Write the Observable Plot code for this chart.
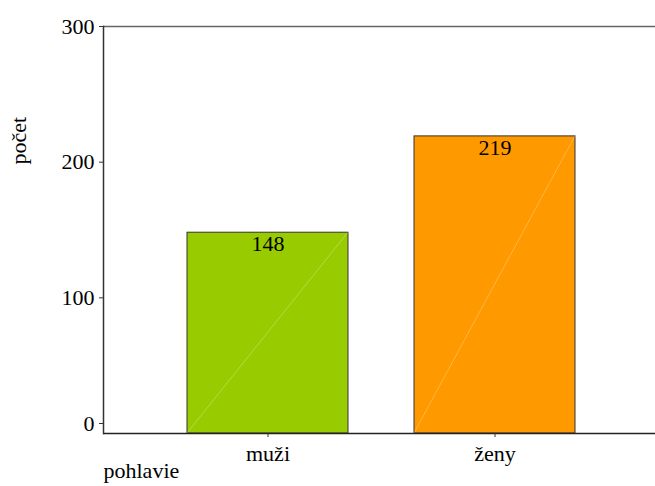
<!DOCTYPE html>
<html>
<head>
<meta charset="utf-8">
<script src="https://cdn.jsdelivr.net/npm/d3@7"></script>
<script src="https://cdn.jsdelivr.net/npm/@observablehq/plot@0.6"></script>
<style>
  html, body { margin: 0; padding: 0; background: #fff; }
  #chart svg { display: block; }
</style>
</head>
<body>
<div id="chart"></div>
<script>
const categories = ["muži", "ženy"];
const counts = [148, 219];
const colors = ["#99CC00", "#FF9900"];
const yTicks = [0, 100, 200, 300];
const xLabel = "pohlavie";
const yLabel = "počet";

const data = categories.map((c, i) => ({ cat: c, n: counts[i], color: colors[i] }));
const serif = "Liberation Serif, DejaVu Serif, serif";

const chart = Plot.plot({
  width: 655,
  height: 486,
  marginLeft: 103,
  marginRight: 0,
  marginTop: 26,
  marginBottom: 53,
  style: { fontSize: "22px", color: "#000", background: "#fff" },
  x: { domain: categories, paddingInner: 0.29, paddingOuter: 0.36, align: 0.51, axis: null },
  y: { domain: [0, 300], axis: null },
  marks: [
    Plot.barY(data, { x: "cat", y: "n", fill: "color", stroke: "#333", strokeWidth: 1 }),
    Plot.text(data, { x: "cat", y: "n", text: d => String(d.n), lineAnchor: "top", dy: 3, fill: "#000", fontSize: 22 }),
    Plot.ruleY([yTicks[yTicks.length - 1]], { stroke: "#666", strokeWidth: 1.5 }),
    Plot.ruleY([0], { stroke: "#222", strokeWidth: 1.5 }),
    Plot.frame({ anchor: "left", stroke: "#333", strokeWidth: 1.5 }),
    Plot.axisY(yTicks.slice(1), { tickSize: 4, tickPadding: 5, label: null, stroke: "#333", fontSize: 22, fill: "#000" }),
    Plot.axisY(yTicks.slice(0, 1), { tickSize: 4, tickPadding: 5, label: null, stroke: "#333", fontSize: 22, fill: "#000", dy: -10 }),
    Plot.axisX(categories, { tickSize: 4, tickPadding: 8, label: null, stroke: "#333", fontSize: 22, fill: "#000" }),
    Plot.text([yLabel], { frameAnchor: "top-left", rotate: -90, dx: -93, dy: 138, fontSize: 22, fill: "#000" }),
    Plot.text([xLabel], { frameAnchor: "bottom-left", textAnchor: "start", dx: 0, dy: 44, fontSize: 22, fill: "#000" })
  ]
});

// serif font on every text element
d3.select(chart).attr("font-family", serif);
d3.select(chart).selectAll("g").each(function () {
  if (this.getAttribute("font-family")) this.setAttribute("font-family", serif);
});
d3.select(chart).selectAll("text").attr("font-family", serif).style("font-family", serif);

// faint diagonal from bottom-left to top-right inside each bar (derived from rendered bar geometry)
d3.select(chart).selectAll("g[aria-label='bar'] rect").each(function () {
  const r = d3.select(this);
  const x = +r.attr("x"), y = +r.attr("y"), w = +r.attr("width"), h = +r.attr("height");
  d3.select(this.parentNode).append("line")
    .attr("x1", x).attr("y1", y + h).attr("x2", x + w).attr("y2", y)
    .attr("stroke", "#fff").attr("stroke-opacity", 0.45).attr("stroke-width", 0.6);
});

document.getElementById("chart").appendChild(chart);
</script>
</body>
</html>
